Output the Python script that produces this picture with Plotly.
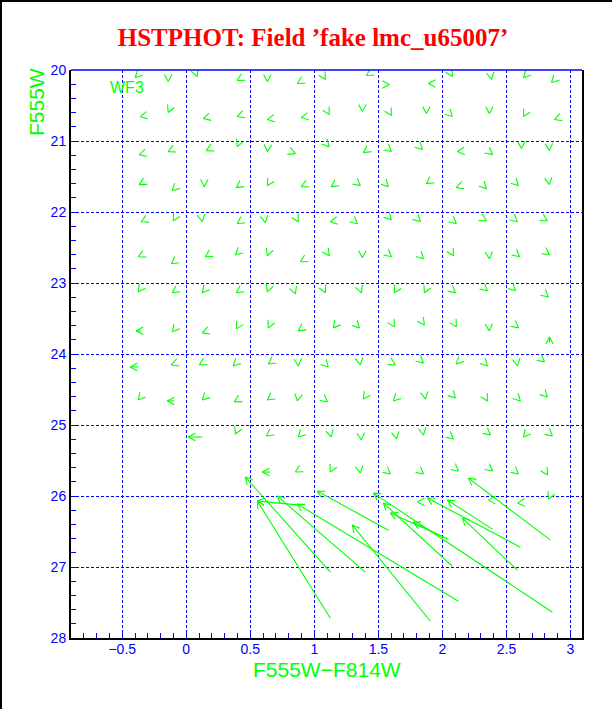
import math
import plotly.graph_objects as go

# ---------------- data ----------------
title_text = "HSTPHOT: Field ’fake lmc_u65007’"
x_title = "F555W−F814W"
y_title = "F555W"
chip_label = "WF3"
chip_x, chip_y = -0.46, 20.25

x_tickvals = [-0.5, 0, 0.5, 1, 1.5, 2, 2.5, 3]
x_ticktext = ["−0.5", "0", "0.5", "1", "1.5", "2", "2.5", "3"]
y_tickvals = [20, 21, 22, 23, 24, 25, 26, 27, 28]
y_ticktext = ["20", "21", "22", "23", "24", "25", "26", "27", "28"]

# small arrows: head position (colour, magnitude) and on-screen direction (deg, 0=right, 90=up)
small_x = [
    -0.398, -0.141, 0.086, 0.398, 0.633, 0.867, 1.086, 1.406, 1.586, 1.891, 2.078, 2.383, 2.633, 2.852,
    -0.359, -0.141, 0.133, 0.398, 0.633, 0.898, 1.117, 1.375, 1.602, 1.875, 2.078, 2.367, 2.633, 2.875,
    -0.367, -0.141, 0.156, 0.398, 0.633, 0.852, 1.117, 1.383, 1.602, 1.844, 2.117, 2.391, 2.617, 2.836,
    -0.367, -0.109, 0.141, 0.391, 0.633, 0.898, 1.133, 1.359, 1.578, 1.875, 2.109, 2.344, 2.594, 2.836,
    -0.352, -0.102, 0.125, 0.398, 0.617, 0.875, 1.125, 1.336, 1.602, 1.828, 2.109, 2.344, 2.586, 2.820,
    -0.375, -0.117, 0.148, 0.383, 0.633, 0.891, 1.117, 1.375, 1.602, 1.852, 2.086, 2.367, 2.602, 2.836,
    -0.375, -0.109, 0.125, 0.391, 0.633, 0.852, 1.086, 1.367, 1.625, 1.859, 2.102, 2.352, 2.570, 2.828,
    -0.109, 0.125, 0.391, 0.641, 0.875, 1.148, 1.352, 1.625, 1.859, 2.109, 2.367, 2.594,
    -0.117, 0.102, 0.367, 0.641, 0.875, 1.109, 1.359, 1.633, 1.852, 2.109, 2.352, 2.586, 2.797,
    -0.375, 0.125, 0.375, 0.633, 0.867, 1.102, 1.383, 1.617, 1.867, 2.102, 2.352, 2.609, 2.820,
    0.383, 0.625, 0.875, 1.133, 1.367, 1.641, 1.852, 2.086, 2.375, 2.633, 2.859,
    0.852, 1.125, 1.359, 1.594, 1.852, 2.125, 2.391, 2.594, 2.820,
    1.805, 2.359, 2.586, 2.828,
]
small_y = [
    20.106, 20.162, 20.092, 20.148, 20.162, 20.190, 20.134, 20.078, 20.205, 20.190, 20.092, 20.134, 20.106, 20.176,
    20.656, 20.599, 20.684, 20.656, 20.698, 20.670, 20.628, 20.585, 20.642, 20.614, 20.656, 20.614, 20.656, 20.698,
    21.192, 21.149, 21.135, 21.079, 21.149, 21.178, 21.079, 21.164, 21.149, 21.121, 21.149, 21.192, 21.107, 21.135,
    21.615, 21.700, 21.643, 21.657, 21.629, 21.643, 21.643, 21.629, 21.643, 21.601, 21.657, 21.671, 21.629, 21.615,
    22.137, 22.123, 22.137, 22.165, 22.151, 22.137, 22.137, 22.165, 22.109, 22.137, 22.165, 22.123, 22.137, 22.123,
    22.630, 22.729, 22.630, 22.602, 22.616, 22.701, 22.616, 22.645, 22.630, 22.659, 22.616, 22.659, 22.630, 22.602,
    23.124, 23.138, 23.138, 23.138, 23.124, 23.152, 23.138, 23.138, 23.138, 23.138, 23.138, 23.110, 23.110, 23.195,
    23.688, 23.702, 23.646, 23.632, 23.674, 23.632, 23.632, 23.618, 23.590, 23.618, 23.674, 23.632,
    24.154, 24.154, 24.168, 24.140, 24.168, 24.182, 24.154, 24.154, 24.126, 24.140, 24.168, 24.168, 24.111,
    24.647, 24.647, 24.675, 24.647, 24.661, 24.675, 24.633, 24.661, 24.633, 24.619, 24.661, 24.661, 24.605,
    25.127, 25.155, 25.169, 25.169, 25.211, 25.197, 25.141, 25.197, 25.141, 25.169, 25.155,
    25.663, 25.663, 25.677, 25.691, 25.691, 25.649, 25.649, 25.691, 25.705,
    26.086, 26.058, 26.100, 26.044,
]
small_dir = [
    225, 270, 292, 210, 270, 210, 300, 210, 0, 180, 300, 280, 225, 225,
    190, 247, 195, 200, 190, 190, 300, 270, 300, 270, 315, 270, 240, 200,
    195, 205, 205, 247, 265, 337, 315, 215, 320, 315, 185, 320, 270, 275,
    210, 225, 270, 215, 240, 205, 215, 320, 315, 215, 200, 315, 315, 280,
    205, 240, 280, 215, 280, 300, 190, 320, 315, 315, 320, 330, 320, 330,
    205, 215, 210, 220, 250, 210, 305, 270, 320, 315, 300, 275, 320, 325,
    235, 215, 230, 215, 250, 290, 295, 290, 240, 245, 320, 320, 315, 320,
    230, 200, 240, 245, 215, 230, 315, 300, 305, 300, 275, 320,
    200, 210, 225, 215, 275, 315, 280, 330, 320, 225, 315, 280, 320,
    230, 225, 210, 215, 260, 320, 235, 225, 280, 315, 300, 315, 315,
    245, 215, 225, 285, 275, 280, 280, 320, 320, 230, 320,
    210, 245, 280, 320, 320, 320, 320, 320, 300,
    180, 180, 185, 245,
]

# long arrows: drawn from tail to head
long_tail_x = [1.125, 1.125, 0.891, 1.398, 2.125, 1.578, 1.906, 2.859, 2.078, 2.047, 2.020, 2.609, 2.391, 2.586, 2.844,
               0.125, -0.375, -0.094, -0.352, 0.656, 2.836]
long_tail_y = [27.073, 27.722, 26.128, 27.073, 27.482, 26.481, 27.764, 27.637, 26.989, 26.608, 26.590, 26.721, 26.467, 27.045, 26.622,
               25.169, 24.182, 24.661, 23.674, 25.663, 23.843]
long_head_x = [0.461, 0.555, 0.555, 0.711, 0.867, 1.023, 1.297, 1.461, 1.539, 1.594, 1.773, 1.883, 2.039, 2.156, 2.203,
               0.016, -0.438, -0.148, -0.391, 0.594, 2.836]
long_head_y = [25.733, 26.072, 26.072, 26.001, 26.114, 25.931, 26.410, 25.959, 26.100, 26.241, 26.368, 26.029, 26.058, 26.311, 25.748,
               25.169, 24.182, 24.661, 23.674, 25.663, 23.759]

# ---------------- layout geometry ----------------
W, H = 612, 709
ML, MR, MT, MB = 71, 30, 70, 71
XR = [-0.9, 3.09]
YR = [28, 20]
kx = (W - ML - MR) / (XR[1] - XR[0])      # px per colour unit
ky = (H - MT - MB) / (YR[0] - YR[1])      # px per magnitude
BARB = 8.0
HALF = 28.0

GREEN = "#00ff00"
BLUE = "#0000ff"

xs, ys = [], []


def add_head(hx, hy, ang):
    pts = []
    for s in (1, -1):
        a = math.radians(ang + 180 + s * HALF)
        pts.append((hx + BARB * math.cos(a) / kx, hy - BARB * math.sin(a) / ky))
    xs.extend([pts[0][0], hx, pts[1][0], None])
    ys.extend([pts[0][1], hy, pts[1][1], None])


for hx, hy, d in zip(small_x, small_y, small_dir):
    add_head(hx, hy, d)

for tx, ty, hx, hy in zip(long_tail_x, long_tail_y, long_head_x, long_head_y):
    xs.extend([tx, hx, None])
    ys.extend([ty, hy, None])
    ang = math.degrees(math.atan2(-(hy - ty) * ky, (hx - tx) * kx))
    add_head(hx, hy, ang)

fig = go.Figure()
fig.add_trace(go.Scatter(x=xs, y=ys, mode="lines",
                         line=dict(color=GREEN, width=1.1),
                         hoverinfo="skip", showlegend=False))

grid_dash = "3px,2px"
fig.update_xaxes(range=XR, tickmode="array", tickvals=x_tickvals, ticktext=x_ticktext,
                 ticks="inside", ticklen=5, tickcolor=BLUE, tickwidth=1,
                 showgrid=True, gridcolor=BLUE, gridwidth=1, griddash=grid_dash,
                 zeroline=False, showline=True, linecolor="black", linewidth=2,
                 automargin=False, ticklabelstandoff=-3,
                 tickfont=dict(family="Liberation Sans", size=14, color=BLUE),
                 minor=dict(tickmode="linear", tick0=0, dtick=0.1, ticks="inside",
                            ticklen=5, tickcolor=BLUE, tickwidth=1, showgrid=False))
fig.update_yaxes(range=YR, tickmode="array", tickvals=y_tickvals, ticktext=y_ticktext,
                 ticks="inside", ticklen=5, tickcolor=BLUE, tickwidth=1,
                 showgrid=True, gridcolor=BLUE, gridwidth=1, griddash=grid_dash,
                 zeroline=False, showline=True, linecolor="black", linewidth=2, mirror=True,
                 automargin=False,
                 tickfont=dict(family="Liberation Sans", size=14, color=BLUE),
                 minor=dict(tickmode="linear", tick0=20, dtick=0.2, ticks="inside",
                            ticklen=5, tickcolor=BLUE, tickwidth=1, showgrid=False))

pw, ph = W - ML - MR, H - MT - MB


def px_to_paper_x(px):
    return (px - ML) / pw


def px_to_paper_y(py):
    return (H - MB - py) / ph


shapes = [
    # blue top frame of the plot box
    dict(type="line", xref="paper", yref="paper", x0=0, x1=1, y0=1, y1=1,
         line=dict(color=BLUE, width=1.5)),
    # page frame (top and left)
    dict(type="line", xref="paper", yref="paper",
         x0=px_to_paper_x(0), x1=px_to_paper_x(W), y0=px_to_paper_y(1), y1=px_to_paper_y(1),
         line=dict(color="black", width=2)),
    dict(type="line", xref="paper", yref="paper",
         x0=px_to_paper_x(1), x1=px_to_paper_x(1), y0=px_to_paper_y(0), y1=px_to_paper_y(H),
         line=dict(color="black", width=2)),
]

annotations = [
    dict(text=chip_label, x=chip_x, y=chip_y, xref="x", yref="y", showarrow=False,
         font=dict(family="Liberation Sans", size=16, color=GREEN)),
    dict(text=x_title, xref="paper", yref="paper", x=0.5, y=px_to_paper_y(669),
         xanchor="center", yanchor="middle", showarrow=False,
         font=dict(family="Liberation Sans", size=21, color=GREEN)),
    dict(text=y_title, xref="paper", yref="paper", x=px_to_paper_x(36), y=px_to_paper_y(102),
         xanchor="center", yanchor="middle", textangle=-90, showarrow=False,
         font=dict(family="Liberation Sans", size=21, color=GREEN)),
]

fig.update_layout(
    width=W, height=H,
    margin=dict(l=ML, r=MR, t=MT, b=MB, autoexpand=False),
    paper_bgcolor="white", plot_bgcolor="white",
    title=dict(text=title_text, x=313 / W, xanchor="center", xref="container",
               y=1 - 37 / H, yanchor="middle", yref="container",
               font=dict(family="Liberation Serif", size=25, color="#ff0000", weight="bold")),
    shapes=shapes, annotations=annotations,
    showlegend=False,
)

fig.write_html("out.html", config={"displayModeBar": False},
               post_script="document.body.style.margin='0';")
